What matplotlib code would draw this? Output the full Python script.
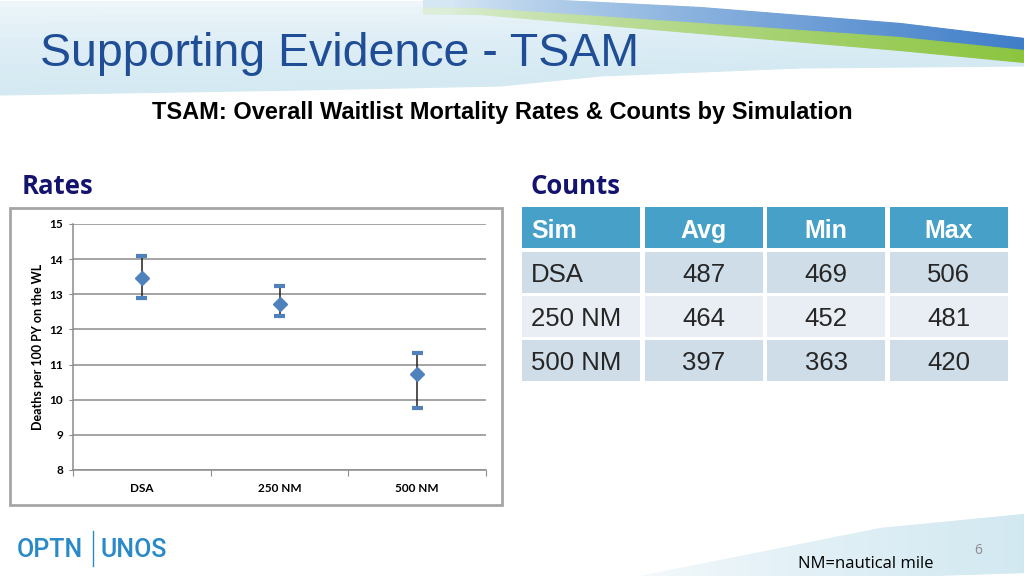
import matplotlib
matplotlib.use("Agg")
import matplotlib.pyplot as plt
from matplotlib.patches import Rectangle
from matplotlib.colors import to_rgb
import numpy as np

# Rates panel: mean and min/max of deaths per 100 PY on the WL
sims = ["DSA", "250 NM", "500 NM"]
rate_mean = [13.45, 12.73, 10.74]
rate_low = [12.89, 12.37, 9.77]
rate_high = [14.09, 13.25, 11.32]
y_ticks = [8, 9, 10, 11, 12, 13, 14, 15]

# Counts panel
table_header = ["Sim", "Avg", "Min", "Max"]
count_avg = [487, 464, 397]
count_min = [469, 452, 363]
count_max = [506, 481, 420]

W, H = 1024, 576
fig = plt.figure(figsize=(W / 100, H / 100), dpi=100)


def fig_axes(x0, y0, x1, y1):
    # pixel box (top-left origin) -> figure axes
    return fig.add_axes([x0 / W, 1 - y1 / H, (x1 - x0) / W, (y1 - y0) / H])


def mix(c0, c1, f):
    a, b = np.array(to_rgb(c0)), np.array(to_rgb(c1))
    return tuple(a + (b - a) * f)


def band(ax, xv, lo, hi, color):
    ax.fill_between(xv, lo, hi, color=color, ec=color, lw=0.8)


# background decorations (pixel space, y down)
bg = fig.add_axes([0, 0, 1, 1])
bg.set_xlim(0, W)
bg.set_ylim(H, 0)
bg.axis("off")

xs = np.linspace(0, W, 260)
wash_low = np.interp(xs, [0, 300, 500, 600, 800, 1024], [95, 90, 86, 76, 68, 66])
blue_top = np.interp(xs, [0, 560, 700, 900, 1024], [0, 0, 7, 23, 38])
green_top = np.interp(xs, [0, 480, 700, 900, 1024], [4, 8, 23, 37, 50])
green_bot = np.interp(xs, [0, 480, 700, 900, 1024], [8, 14, 33, 50, 62])
n = 12
for k in range(n):
    f = k / n
    band(bg, xs, wash_low * f, wash_low * (f + 1 / n),
         mix("#eef6fa", "#d2e8f2", f ** 0.7))
band(bg, xs, 0, blue_top, "white")
for i in range(len(xs) - 1):
    seg = xs[i:i + 2]
    f = np.clip((xs[i] - 450) / 574, 0, 1)
    if xs[i] > 420:
        band(bg, seg, blue_top[i:i + 2], green_top[i:i + 2],
             mix("#d6e7f4", "#3f7dc8", f ** 0.8))
        band(bg, seg, green_top[i:i + 2], green_bot[i:i + 2],
             mix("#dcedd8", "#8cc43f", f ** 0.7))
# bottom swoosh
sx = np.linspace(640, W, 200)
s_top = np.interp(sx, [640, 760, 880, 1024], [576, 552, 528, 514])
s_bot = np.interp(sx, [640, 900, 1024], [576, 576, 572])
for i in range(len(sx) - 1):
    f = (sx[i] - 640) / 384
    band(bg, sx[i:i + 2], s_top[i:i + 2], s_bot[i:i + 2],
         mix("#f6fafc", "#d2e8f1", f ** 0.7))

# titles
fig.text(40 / W, 1 - 66 / H, "Supporting Evidence - TSAM", fontsize=33.5,
         color="#1f4e96", family="Liberation Sans", va="baseline", ha="left")
fig.text(502 / W, 1 - 119 / H,
         "TSAM: Overall Waitlist Mortality Rates & Counts by Simulation",
         fontsize=17, fontweight="bold", color="black",
         family="Liberation Sans", va="baseline", ha="center")
fig.text(22 / W, 1 - 194 / H, "Rates", fontsize=18.5, fontweight="bold",
         color="#14146e", family="Open Sans", va="baseline", ha="left")
fig.text(531 / W, 1 - 194 / H, "Counts", fontsize=18.5, fontweight="bold",
         color="#14146e", family="Open Sans", va="baseline", ha="left")

# chart frame
bg.add_patch(Rectangle((10, 208), 492, 297, fill=True, fc="white",
                       ec="#a6a6a6", lw=2))

# rates chart
ax = fig_axes(73, 224, 486, 470)
x = np.arange(len(sims))
ax.set_xlim(-0.5, 2.5)
ax.set_ylim(8, 15)
ax.set_yticks(y_ticks)
ax.grid(axis="y", color="#8c8c8c", lw=1.1)
ax.set_axisbelow(True)
for s in ["top", "right"]:
    ax.spines[s].set_visible(False)
for s in ["left", "bottom"]:
    ax.spines[s].set_color("#8c8c8c")
    ax.spines[s].set_linewidth(1.1)
ax.set_xticks([-0.5, 0.5, 1.5, 2.5])
ax.set_xticklabels([])
ax.set_xticks(x, minor=True)
ax.set_xticklabels(sims, minor=True)
ax.tick_params(axis="x", which="major", length=4, color="#8c8c8c")
ax.tick_params(axis="x", which="minor", length=0, pad=9)
ax.tick_params(axis="y", length=3, color="#8c8c8c", pad=4)
for lab in ax.get_yticklabels() + ax.get_xticklabels(minor=True):
    lab.set_fontweight("bold")
    lab.set_fontsize(8.5)
    lab.set_family("Lato")
ax.vlines(x, rate_low, rate_high, color="#222222", lw=1.1, zorder=3)
ax.hlines(rate_low, x - 0.04, x + 0.04, color="#4f81bd", lw=3, zorder=4)
ax.hlines(rate_high, x - 0.04, x + 0.04, color="#4f81bd", lw=3, zorder=4)
ax.plot(x, rate_mean, "D", color="#4f81bd", ms=7, zorder=5)
ax.set_ylabel("Deaths per 100 PY on the WL", fontsize=9, fontweight="bold",
              family="Lato", labelpad=4)

# counts table
tx = fig_axes(520, 207, 1010, 381)
tx.set_xlim(0, 4)
tx.set_ylim(4, 0)
tx.axis("off")
rows = [[s, str(a), str(mn), str(mx)]
        for s, a, mn, mx in zip(sims, count_avg, count_min, count_max)]
row_colors = ["#cfdde8", "#e8eef3", "#cfdde8"]
gap = 0.017
for j, h in enumerate(table_header):
    tx.add_patch(Rectangle((j + gap, 0), 1 - 2 * gap, 0.94, fc="#46a0c8",
                           ec="none"))
    tx.text(j + 0.09 if j == 0 else j + 0.5, 0.71, h, color="white",
            fontsize=18, fontweight="bold", family="Liberation Sans",
            ha="left" if j == 0 else "center", va="baseline")
for i, row in enumerate(rows):
    y0 = 1.03 + i * 1.01
    for j, val in enumerate(row):
        tx.add_patch(Rectangle((j + gap, y0), 1 - 2 * gap, 0.95,
                               fc=row_colors[i], ec="none"))
        tx.text(j + 0.09 if j == 0 else j + 0.5, y0 + 0.70, val,
                color="#262626", fontsize=18.5, family="Liberation Sans",
                ha="left" if j == 0 else "center", va="baseline")

# footer
fig.text(17 / W, 1 - 557 / H, "OPTN", fontsize=18, color="#2a8ac8",
         family="Roboto", fontweight="medium", va="baseline", ha="left")
bg.plot([93, 93], [531, 566], color="#2a8ac8", lw=1)
fig.text(100 / W, 1 - 557 / H, "UNOS", fontsize=18, color="#2a8ac8",
         family="Roboto", fontweight="medium", va="baseline", ha="left")
fig.text(798 / W, 1 - 568 / H, "NM=nautical mile", fontsize=12,
         color="black", family="Open Sans", va="baseline", ha="left")
fig.text(978 / W, 1 - 551 / H, "6", fontsize=10, color="#8c8c8c",
         family="Open Sans", va="center", ha="center")

fig.savefig("out.png", dpi=100)
